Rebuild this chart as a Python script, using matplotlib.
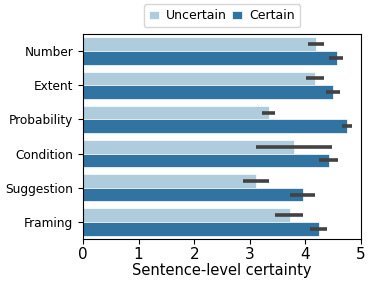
import numpy as np
import matplotlib
matplotlib.use("Agg")
import matplotlib.pyplot as plt
import seaborn as sns

categories = ["Number", "Extent", "Probability", "Condition", "Suggestion", "Framing"]
uncertain = [4.19, 4.17, 3.34, 3.79, 3.11, 3.72]
uncertain_lo = [4.04, 4.01, 3.22, 3.12, 2.88, 3.46]
uncertain_hi = [4.34, 4.33, 3.46, 4.47, 3.35, 3.96]
certain = [4.56, 4.50, 4.74, 4.42, 3.95, 4.24]
certain_lo = [4.43, 4.37, 4.66, 4.24, 3.72, 4.09]
certain_hi = [4.68, 4.62, 4.83, 4.59, 4.17, 4.39]

pal = sns.color_palette("Paired", 2)
c_unc = sns.desaturate(pal[0], 0.75)
c_cer = sns.desaturate(pal[1], 0.75)

fig = plt.figure(figsize=(3.73, 2.88), dpi=100)
ax = fig.add_axes([83 / 373, 1 - 239 / 288, (361 - 83) / 373, (239 - 34) / 288])

y = np.arange(len(categories))
w = 0.4
unc = np.array(uncertain)
cer = np.array(certain)
ax.barh(y - w / 2, unc, height=w, color=c_unc, edgecolor="white", linewidth=0.5, label="Uncertain")
ax.barh(y + w / 2, cer, height=w, color=c_cer, edgecolor="white", linewidth=0.5, label="Certain")

for yi, lo, hi in zip(y - w / 2, uncertain_lo, uncertain_hi):
    ax.plot([lo, hi], [yi, yi], color="#424242", lw=2.6, solid_capstyle="butt")
for yi, lo, hi in zip(y + w / 2, certain_lo, certain_hi):
    ax.plot([lo, hi], [yi, yi], color="#424242", lw=2.6, solid_capstyle="butt")

ax.set_yticks(y)
ax.set_yticklabels(categories, fontsize=8.7)
ax.set_ylim(len(categories) - 0.5, -0.5)
ax.set_xlim(0, 5)
ax.set_xticks(range(6))
ax.tick_params(axis="x", labelsize=11, pad=2)
ax.set_xlabel("Sentence-level certainty", fontsize=10.5, labelpad=1)

ax.legend(loc="lower center", bbox_to_anchor=(0.5, 1.02), ncol=2, fontsize=9,
          handlelength=0.8, handletextpad=0.6, columnspacing=0.4, borderaxespad=0.2)

fig.savefig("out.png", dpi=100)
